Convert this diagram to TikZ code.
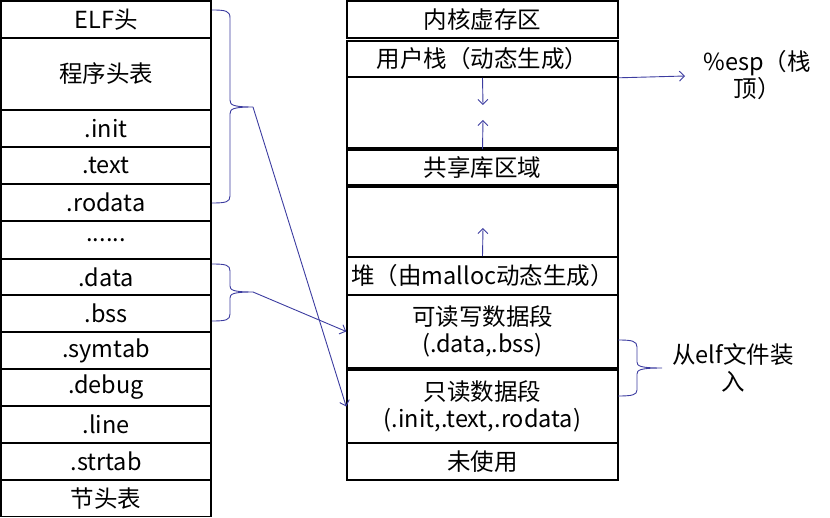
\documentclass[tikz,border=0pt]{standalone}
\usepackage{fontspec}
\setmainfont{Noto Sans CJK SC}
\usetikzlibrary{arrows.meta}
\definecolor{lnblue}{RGB}{60,60,160}
\begin{document}
\begin{tikzpicture}[x=1bp,y=-1bp,
  every node/.style={font=\fontsize{23.5bp}{27bp}\selectfont, inner sep=0pt},
  lbox/.style={draw=black, line width=1.2bp, minimum width=210bp, align=center},
  rbox/.style={draw=black, line width=1.6bp, minimum width=271bp, align=center},
  arr/.style={draw=lnblue, line width=0.9bp, -{Straight Barb[length=5bp,width=10bp]}},
  brc/.style={draw=lnblue, line width=0.9bp}]
\useasboundingbox (0,0) rectangle (830,518);
% left column
\node[lbox, minimum height=37bp] (elf) at (106,19.5) {ELF头};
\node[lbox, minimum height=72bp] (ph) at (106,74) {程序头表};
\node[lbox, minimum height=37bp] (init) at (106,128.5) {.init};
\node[lbox, minimum height=37bp] (text) at (106,165.5) {.text};
\node[lbox, minimum height=37bp] (rodata) at (106,202.5) {.rodata};
\node[lbox, minimum height=38bp] (dots) at (106,240) {......};
\node[lbox, minimum height=36bp] (data) at (106,277) {.data};
\node[lbox, minimum height=37bp] (bss) at (106,313.5) {.bss};
\node[lbox, minimum height=37bp] (symtab) at (106,350.5) {.symtab};
\node[lbox, minimum height=37bp] (debug) at (106,387.5) {.debug};
\node[lbox, minimum height=37bp] (line) at (106,424.5) {.line};
\node[lbox, minimum height=37bp] (strtab) at (106,461.5) {.strtab};
\node[lbox, minimum height=36bp] (sht) at (106,498.5) {节头表};
% right column
\node[rbox, minimum height=37bp] (kern) at (482.5,19.5) {内核虚存区};
\node[rbox, minimum height=36bp] (stk) at (482.5,59) {用户栈（动态生成）};
\node[rbox, minimum height=71bp] (gap1) at (482.5,112.5) {};
\node[rbox, minimum height=35bp] (lib) at (482.5,167.5) {共享库区域};
\node[rbox, minimum height=70bp] (gap2) at (482.5,222) {};
\node[rbox, minimum height=38bp] (heap) at (482.5,276) {堆（由malloc动态生成）};
\node[rbox, minimum height=73bp] (rw) at (482.5,331.5) {可读写数据段\\(.data,.bss)};
\node[rbox, minimum height=73bp] (ro) at (482.5,406.5) {只读数据段\\(.init,.text,.rodata)};
\node[rbox, minimum height=37bp] (unused) at (482.5,461.5) {未使用};
% side labels
\node[align=center] (esp) at (757,75) {\%esp（栈\\顶）};
\node[align=center] (elfload) at (733,368) {从elf文件装\\入};
% braces
\coordinate (b1) at (253,107);
\coordinate (b2) at (253,292);
\coordinate (b3) at (662,368);
\draw[brc] (212,10) .. controls (226,10) and (230,11) .. (230,18) -- (230,100)
  .. controls (230,105) and (233,107) .. (b1)
  .. controls (233,107) and (230,109) .. (230,114) -- (230,196)
  .. controls (230,202) and (226,203) .. (212,203);
\draw[brc] (212,264) .. controls (226,264) and (230,265) .. (230,271) -- (230,286)
  .. controls (230,290) and (233,292) .. (b2)
  .. controls (233,292) and (230,294) .. (230,298) -- (230,314)
  .. controls (230,320) and (226,321) .. (212,321);
\draw[brc] (618,340) .. controls (632,340) and (637,341) .. (637,347) -- (637,362)
  .. controls (637,366) and (640,368) .. (b3)
  .. controls (640,368) and (637,370) .. (637,374) -- (637,390)
  .. controls (637,395) and (632,396) .. (618,396);
% connectors
\draw[arr] (b1) -- (ro.west);
\draw[arr] (b2) -- (rw.west);
\coordinate (espend) at (685,76);
\draw[arr] (stk.south east) -- (espend);
\coordinate (dn) at (483,105);
\coordinate (up1) at (483,120);
\coordinate (up2) at (483,228);
\draw[arr] (stk.south) -- (dn);
\draw[arr] (lib.north) -- (up1);
\draw[arr] (heap.north) -- (up2);
\end{tikzpicture}
\end{document}
